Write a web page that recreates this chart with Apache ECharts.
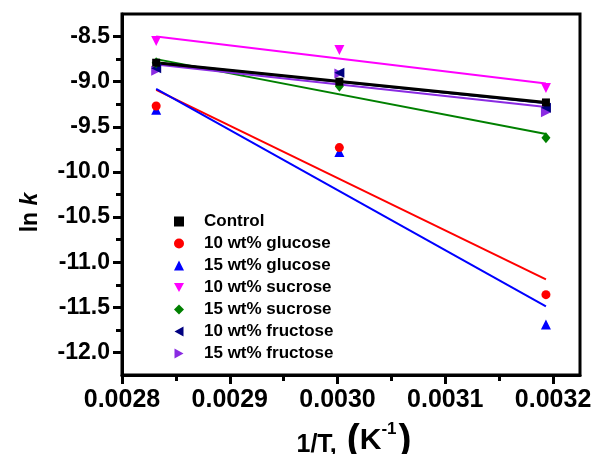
<!DOCTYPE html>
<html>
<head>
<meta charset="utf-8">
<script src="https://cdn.jsdelivr.net/npm/echarts@6/dist/echarts.min.js"></script>
<style>
html,body{margin:0;padding:0;background:#fff;}
#chart{width:592px;height:454px;}
</style>
</head>
<body>
<div id="chart"></div>
<script>
// ---- data ----
const invT = [0.0028317, 0.0030017, 0.0031934];
const seriesNames = ['Control', '10 wt% glucose', '15 wt% glucose', '10 wt% sucrose', '15 wt% sucrose', '10 wt% fructose', '15 wt% fructose'];
const control    = [-8.79, -9.00, -9.23];
const glucose10  = [-9.27, -9.73, -11.36];
const glucose15  = [-9.31, -9.78, -11.69];
const sucrose10  = [-8.55, -8.65, -9.07];
const sucrose15  = [-8.79, -9.05, -9.62];
const fructose10 = [-8.85, -8.90, -9.29];
const fructose15 = [-8.88, -8.91, -9.34];
// linear-fit line end points (at first and last 1/T)
const fitX = [0.0028317, 0.0031934];
const fitControl    = [-8.79, -9.23];
const fitGlucose10  = [-9.09, -11.19];
const fitGlucose15  = [-9.08, -11.49];
const fitSucrose10  = [-8.50, -9.02];
const fitSucrose15  = [-8.75, -9.58];
const fitFructose10 = [-8.79, -9.24];
const fitFructose15 = [-8.81, -9.28];
// tick labels
const xTicks = [0.0028, 0.0029, 0.0030, 0.0031, 0.0032];
const xMinorTicks = [0.00285, 0.00295, 0.00305, 0.00315];
const yTicks = [-12.0, -11.5, -11.0, -10.5, -10.0, -9.5, -9.0, -8.5];
const yMinorTicks = [-11.75, -11.25, -10.75, -10.25, -9.75, -9.25, -8.75];

const ptData = [control, glucose10, glucose15, sucrose10, sucrose15, fructose10, fructose15];
const fitData = [fitControl, fitGlucose10, fitGlucose15, fitSucrose10, fitSucrose15, fitFructose10, fitFructose15];
const colors = ['#000000', '#ff0000', '#0000ff', '#ff00ff', '#008000', '#000080', '#8a2be2'];
const symbols = ['rect', 'circle', 'triangle',
  'path://M0,0 L10,0 L5,9 Z',
  'diamond',
  'path://M0,5 L9,0 L9,10 Z',
  'path://M0,0 L9,5 L0,10 Z'];
const sizes = [8, 9, 10, 10, [9, 11], 10, 10];

const FONT = '"Liberation Sans", Arial, sans-serif';
const chart = echarts.init(document.getElementById('chart'));

const series = [];
const lineOrder = [1, 2, 3, 4, 6, 5, 0];
lineOrder.forEach(function (i, k) {
  series.push({
    type: 'line', name: 'fit' + i,
    data: fitX.map(function (x, j) { return [x, fitData[i][j]]; }),
    showSymbol: false, symbol: 'none',
    lineStyle: { color: colors[i], width: i === 0 ? 3 : 2 },
    z: 2 + k, silent: true
  });
});
seriesNames.forEach(function (n, i) {
  series.push({
    type: 'scatter', name: n,
    data: invT.map(function (x, j) { return [x, ptData[i][j]]; }),
    symbol: symbols[i], symbolSize: sizes[i],
    itemStyle: { color: colors[i], opacity: 1 },
    z: 20 - i
  });
});

chart.setOption({
  animation: false,
  backgroundColor: '#fff',
  textStyle: { fontFamily: FONT },
  grid: { left: 122, right: 12, top: 14, bottom: 79, outerBoundsMode: 'none', containLabel: false,
    show: true, borderColor: '#000', borderWidth: 3, backgroundColor: 'transparent' },
  legend: {
    data: seriesNames,
    orient: 'vertical', left: 169, top: 208,
    itemWidth: 10, itemHeight: 10, itemGap: 5,
    textStyle: { fontFamily: FONT, fontWeight: 'bold', fontSize: 17, color: '#000', lineHeight: 17, padding: [0, 0, 0, 15] },
    selectedMode: false
  },
  xAxis: [{
    type: 'value', min: 0.0028, max: 0.003225,
    position: 'bottom',
    axisLine: { show: true, onZero: false, lineStyle: { color: '#000', width: 3 } },
    axisTick: { show: true, customValues: xTicks, length: 9, lineStyle: { color: '#000', width: 3 } },
    axisLabel: { customValues: xTicks, color: '#000', fontWeight: 'bold', fontSize: 25, fontFamily: FONT, margin: 13,
      formatter: function (v) { return v.toFixed(4); } },
    splitLine: { show: false },
    name: '{a|1/T,}{sp| }{p|(}{k|K}{s|-1}{p|)}',
    nameLocation: 'middle', nameGap: 46,
    nameTextStyle: {
      padding: [0, 0, 0, 6],
      rich: {
        a: { fontSize: 25, fontWeight: 'bold', color: '#000', fontFamily: FONT, verticalAlign: 'bottom', padding: [0, 0, 2, 0] },
        sp: { fontSize: 24, width: 10 },
        p: { fontSize: 39, fontWeight: 'bold', color: '#000', fontFamily: FONT },
        k: { fontSize: 30, fontWeight: 'bold', color: '#000', fontFamily: FONT },
        s: { fontSize: 17, fontWeight: 'bold', color: '#000', fontFamily: FONT, verticalAlign: 'top', padding: [0, 2, 14, 0] }
      }
    }
  }, {
    type: 'value', min: 0.0028, max: 0.003225, position: 'bottom',
    axisLine: { show: false },
    axisTick: { show: true, customValues: xMinorTicks, length: 6, lineStyle: { color: '#000', width: 3 } },
    axisLabel: { show: false }, splitLine: { show: false }
  }],
  yAxis: [{
    type: 'value', min: -12.25, max: -8.25,
    position: 'left',
    axisLine: { show: true, onZero: false, lineStyle: { color: '#000', width: 3 } },
    axisTick: { show: true, customValues: yTicks, length: 9, lineStyle: { color: '#000', width: 3 } },
    axisLabel: { customValues: yTicks, color: '#000', fontWeight: 'bold', fontSize: 23, fontFamily: FONT, margin: 12,
      formatter: function (v) { return v.toFixed(1); } },
    splitLine: { show: false },
    name: '{a|ln }{k|k}',
    nameLocation: 'middle', nameGap: 80, nameRotate: 90,
    nameTextStyle: {
      padding: [0, 36, 0, 0],
      rich: {
        a: { fontSize: 23, fontWeight: 'bold', color: '#000', fontFamily: FONT },
        k: { fontSize: 23, fontWeight: 'bold', fontStyle: 'italic', color: '#000', fontFamily: FONT }
      }
    }
  }, {
    type: 'value', min: -12.25, max: -8.25, position: 'left',
    axisLine: { show: false },
    axisTick: { show: true, customValues: yMinorTicks, length: 6, lineStyle: { color: '#000', width: 3 } },
    axisLabel: { show: false }, splitLine: { show: false }
  }],
  series: series
});
</script>
</body>
</html>
